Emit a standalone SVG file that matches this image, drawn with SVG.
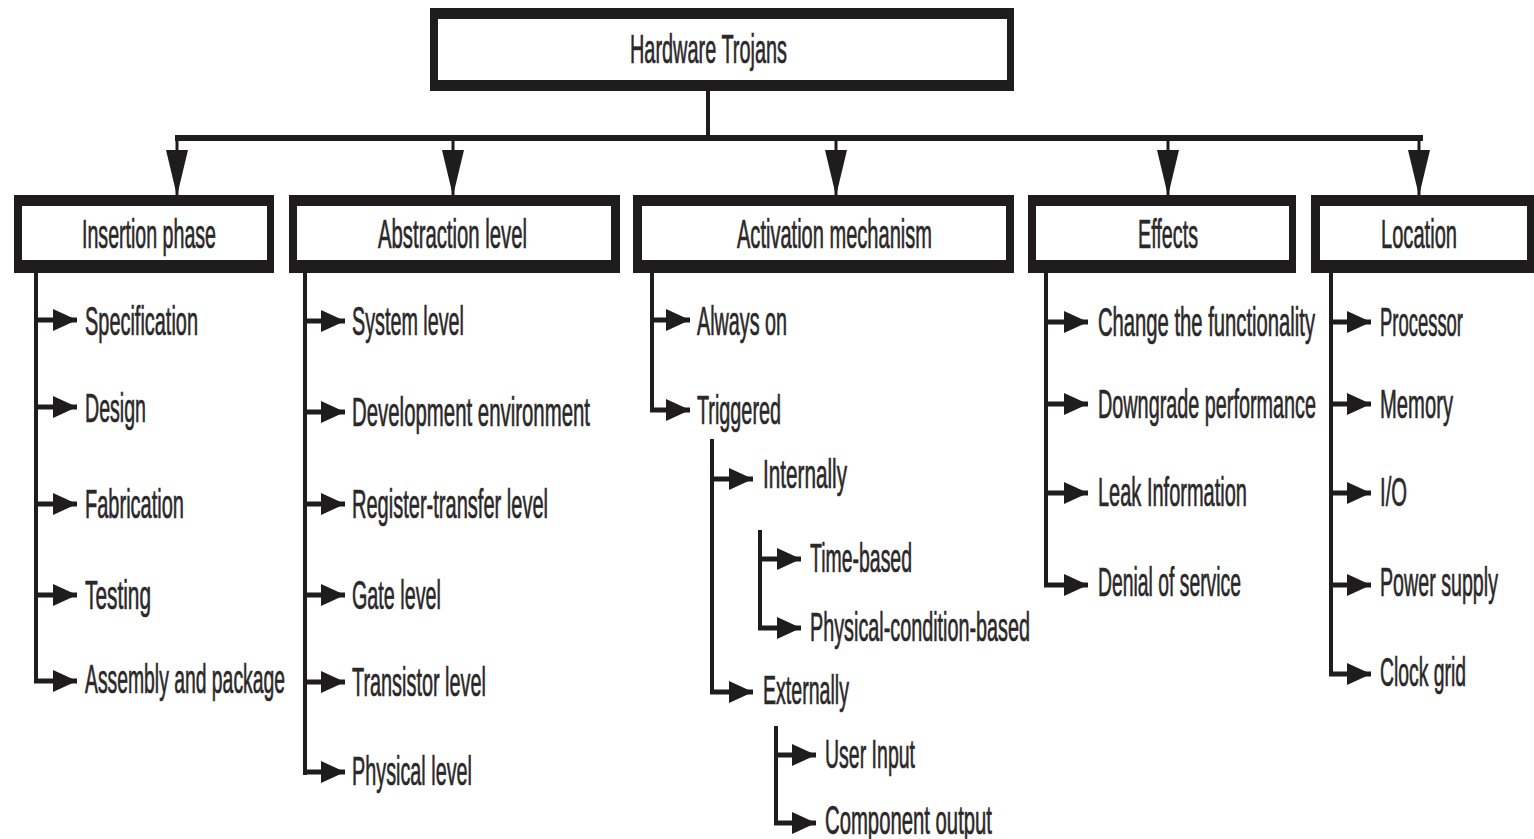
<svg xmlns="http://www.w3.org/2000/svg" width="1534" height="839" viewBox="0 0 1534 839">
<style>
.bg{fill:#ffffff}
.frame{fill:#1f1c1d}
.inner{fill:#ffffff}
.t{font-family:"Liberation Sans",Arial,sans-serif;font-size:40px;fill:#2b2829;stroke:#2b2829;stroke-width:0.7px}
.ln{stroke:#1f1c1d;stroke-width:4;fill:none}
.bar{stroke:#1f1c1d;stroke-width:6;fill:none}
.arr{stroke:#1f1c1d;stroke-width:5;fill:none;marker-end:url(#ah)}
.darr{stroke:#1f1c1d;stroke-width:3;fill:none;marker-end:url(#dh)}
</style>
<defs>
<marker id="ah" viewBox="0 0 24 22" refX="24" refY="11" markerWidth="24" markerHeight="22" markerUnits="userSpaceOnUse" orient="auto">
<path d="M0,0 L24,11 L0,22 Z" fill="#1f1c1d"/>
</marker>
<marker id="dh" viewBox="0 0 46 22" refX="46" refY="11" markerWidth="46" markerHeight="22" markerUnits="userSpaceOnUse" orient="auto">
<path d="M0,0 L46,11 L0,22 Z" fill="#1f1c1d"/>
</marker>
</defs>
<rect class="bg" x="0" y="0" width="1534" height="839"/>

<g id="connectors">
<path class="ln" d="M708,91 V138"/>
<path class="bar" d="M175,138 H1423"/>
<path class="darr" d="M177,136 V196"/>
<path class="darr" d="M453,136 V196"/>
<path class="darr" d="M836,136 V196"/>
<path class="darr" d="M1168,136 V196"/>
<path class="darr" d="M1419,136 V196"/>
<path class="ln" d="M36,273 V683"/>
<path class="arr" d="M36,320 H77"/>
<path class="arr" d="M36,407 H77"/>
<path class="arr" d="M36,504 H77"/>
<path class="arr" d="M36,595 H77"/>
<path class="arr" d="M34,681 H77"/>
<path class="ln" d="M305,273 V775"/>
<path class="arr" d="M305,321 H345"/>
<path class="arr" d="M305,412 H345"/>
<path class="arr" d="M305,504 H345"/>
<path class="arr" d="M305,595 H345"/>
<path class="arr" d="M305,682 H345"/>
<path class="arr" d="M303,772 H345"/>
<path class="ln" d="M652,273 V412"/>
<path class="arr" d="M652,320 H690"/>
<path class="arr" d="M650,410 H690"/>
<path class="ln" d="M712,439 V694"/>
<path class="arr" d="M712,479 H753"/>
<path class="arr" d="M710,692 H753"/>
<path class="ln" d="M760,530 V630"/>
<path class="arr" d="M760,559 H801"/>
<path class="arr" d="M758,628 H801"/>
<path class="ln" d="M776,726 V825"/>
<path class="arr" d="M776,755 H816"/>
<path class="arr" d="M774,823 H816"/>
<path class="ln" d="M1046,273 V587"/>
<path class="arr" d="M1046,322 H1088"/>
<path class="arr" d="M1046,404 H1088"/>
<path class="arr" d="M1046,493 H1088"/>
<path class="arr" d="M1044,585 H1088"/>
<path class="ln" d="M1331,273 V676"/>
<path class="arr" d="M1331,322 H1371"/>
<path class="arr" d="M1331,404 H1371"/>
<path class="arr" d="M1331,493 H1371"/>
<path class="arr" d="M1331,585 H1371"/>
<path class="arr" d="M1329,674 H1371"/>
</g>

<g id="root">
<rect class="frame" x="430" y="8" width="584" height="83"/>
<rect class="inner" x="438" y="19" width="569" height="61"/>
<text class="t" x="630" y="63" textLength="157" lengthAdjust="spacingAndGlyphs">Hardware Trojans</text>
</g>

<g id="insertion-phase">
<rect class="frame" x="14" y="195" width="260" height="78"/>
<rect class="inner" x="22" y="206" width="245" height="54"/>
<text class="t" x="82" y="248" textLength="134" lengthAdjust="spacingAndGlyphs">Insertion phase</text>
</g>
<g id="abstraction-level">
<rect class="frame" x="289" y="195" width="331" height="78"/>
<rect class="inner" x="297" y="206" width="314" height="54"/>
<text class="t" x="378" y="248" textLength="149" lengthAdjust="spacingAndGlyphs">Abstraction level</text>
</g>
<g id="activation-mechanism">
<rect class="frame" x="633" y="195" width="381" height="78"/>
<rect class="inner" x="642" y="206" width="364" height="54"/>
<text class="t" x="737" y="248" textLength="195" lengthAdjust="spacingAndGlyphs">Activation mechanism</text>
</g>
<g id="effects">
<rect class="frame" x="1028" y="195" width="268" height="78"/>
<rect class="inner" x="1036" y="206" width="253" height="54"/>
<text class="t" x="1138" y="248" textLength="60" lengthAdjust="spacingAndGlyphs">Effects</text>
</g>
<g id="location">
<rect class="frame" x="1311" y="195" width="223" height="78"/>
<rect class="inner" x="1320" y="206" width="207" height="54"/>
<text class="t" x="1381" y="248" textLength="76" lengthAdjust="spacingAndGlyphs">Location</text>
</g>

<g id="insertion-items">
<text class="t" x="85" y="335" textLength="113" lengthAdjust="spacingAndGlyphs">Specification</text>
<text class="t" x="85" y="422" textLength="61" lengthAdjust="spacingAndGlyphs">Design</text>
<text class="t" x="85" y="518" textLength="99" lengthAdjust="spacingAndGlyphs">Fabrication</text>
<text class="t" x="85" y="609" textLength="66" lengthAdjust="spacingAndGlyphs">Testing</text>
<text class="t" x="85" y="693" textLength="200" lengthAdjust="spacingAndGlyphs">Assembly and package</text>
</g>
<g id="abstraction-items">
<text class="t" x="352" y="335" textLength="112" lengthAdjust="spacingAndGlyphs">System level</text>
<text class="t" x="352" y="426" textLength="238" lengthAdjust="spacingAndGlyphs">Development environment</text>
<text class="t" x="352" y="518" textLength="196" lengthAdjust="spacingAndGlyphs">Register-transfer level</text>
<text class="t" x="352" y="609" textLength="89" lengthAdjust="spacingAndGlyphs">Gate level</text>
<text class="t" x="352" y="696" textLength="134" lengthAdjust="spacingAndGlyphs">Transistor level</text>
<text class="t" x="352" y="785" textLength="120" lengthAdjust="spacingAndGlyphs">Physical level</text>
</g>
<g id="activation-items">
<text class="t" x="697" y="335" textLength="90" lengthAdjust="spacingAndGlyphs">Always on</text>
<text class="t" x="697" y="424" textLength="84" lengthAdjust="spacingAndGlyphs">Triggered</text>
<text class="t" x="763" y="488" textLength="84" lengthAdjust="spacingAndGlyphs">Internally</text>
<text class="t" x="810" y="572" textLength="102" lengthAdjust="spacingAndGlyphs">Time-based</text>
<text class="t" x="810" y="641" textLength="220" lengthAdjust="spacingAndGlyphs">Physical-condition-based</text>
<text class="t" x="763" y="704" textLength="86" lengthAdjust="spacingAndGlyphs">Externally</text>
<text class="t" x="825" y="768" textLength="90" lengthAdjust="spacingAndGlyphs">User Input</text>
<text class="t" x="825" y="834" textLength="167" lengthAdjust="spacingAndGlyphs">Component output</text>
</g>
<g id="effects-items">
<text class="t" x="1098" y="336" textLength="217" lengthAdjust="spacingAndGlyphs">Change the functionality</text>
<text class="t" x="1098" y="418" textLength="218" lengthAdjust="spacingAndGlyphs">Downgrade performance</text>
<text class="t" x="1098" y="506" textLength="149" lengthAdjust="spacingAndGlyphs">Leak Information</text>
<text class="t" x="1098" y="596" textLength="143" lengthAdjust="spacingAndGlyphs">Denial of service</text>
</g>
<g id="location-items">
<text class="t" x="1380" y="336" textLength="83" lengthAdjust="spacingAndGlyphs">Processor</text>
<text class="t" x="1380" y="418" textLength="73" lengthAdjust="spacingAndGlyphs">Memory</text>
<text class="t" x="1380" y="506" textLength="27" lengthAdjust="spacingAndGlyphs">I/O</text>
<text class="t" x="1380" y="596" textLength="118" lengthAdjust="spacingAndGlyphs">Power supply</text>
<text class="t" x="1380" y="686" textLength="86" lengthAdjust="spacingAndGlyphs">Clock grid</text>
</g>
</svg>
